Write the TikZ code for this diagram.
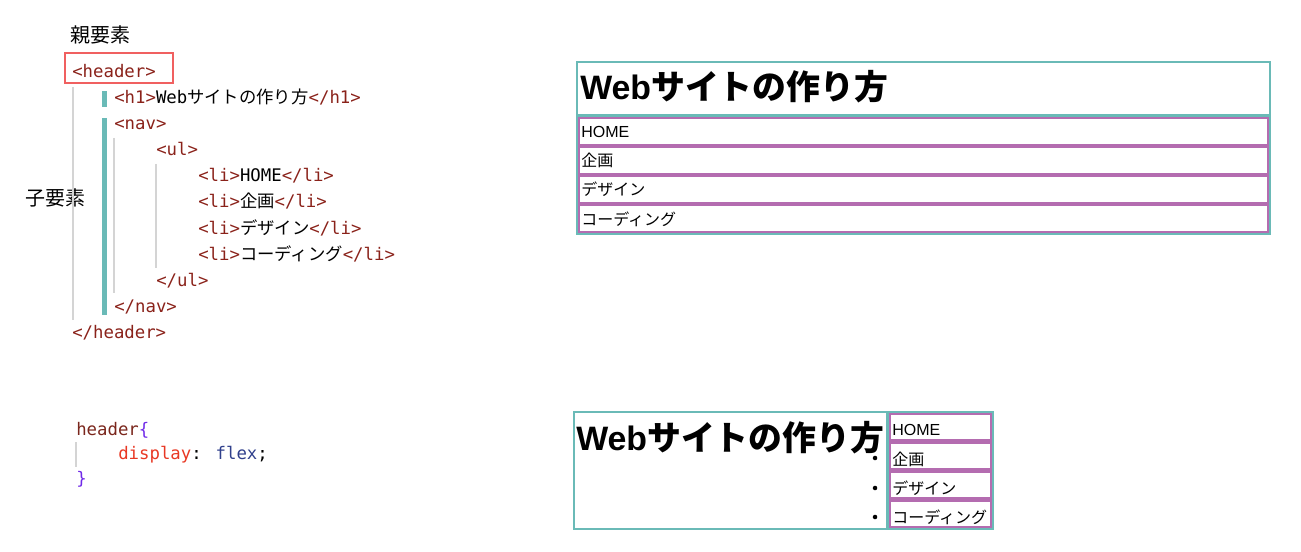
\documentclass[tikz,border=0pt]{standalone}
\usepackage{fontspec}
\setmainfont{Liberation Sans}
\newfontfamily\jp{Noto Sans CJK JP}
\newfontfamily\mono{DejaVu Sans Mono}
\definecolor{tagc}{RGB}{138,34,26}
\definecolor{tealc}{RGB}{106,186,183}
\definecolor{purpc}{RGB}{180,108,176}
\definecolor{redc}{RGB}{240,96,96}
\definecolor{guidec}{RGB}{212,212,212}
\definecolor{cssselc}{RGB}{122,38,28}
\definecolor{bracec}{RGB}{112,42,232}
\definecolor{propc}{RGB}{232,56,36}
\definecolor{valc}{RGB}{48,64,140}
\newcommand\tg[1]{{\color{tagc}#1}}
\tikzset{
  code/.style={font=\mono\fontsize{13}{13}\selectfont, anchor=base west, inner sep=0pt},
  lab/.style={font=\jp\fontsize{15}{15}\selectfont, anchor=base west, inner sep=0pt},
  ttl/.style={font=\bfseries\fontsize{25.4}{26}\selectfont, anchor=base west, inner sep=0pt},
  itm/.style={font=\fontsize{12}{12}\selectfont, anchor=base west, inner sep=0pt},
  guide/.style={draw=guidec, line width=1.1pt},
  tealbar/.style={fill=tealc},
  redbox/.style={draw=redc, line width=1.8pt},
  tealbox/.style={draw=tealc, line width=1.5pt},
  purpbox/.style={draw=purpc, line width=1.9pt},
}
\begin{document}
\begin{tikzpicture}[x=0.75pt,y=-0.75pt]
\useasboundingbox (0,0) rectangle (1301,552);
% ---------- HTML code ----------
\node[lab] (oya) at (70,43) {親要素};
\node[lab] (ko) at (25,205) {子要素};
\draw[redbox] (65,53) rectangle (173,83);
\draw[guide] (73,87) -- (73,320);
\draw[guide] (114,138) -- (114,293);
\draw[guide] (156,164) -- (156,268);
\fill[tealbar] (102,91) rectangle (107,107);
\fill[tealbar] (102,118) rectangle (107,315);
\node[code] (hdr) at (72,78) {\tg{<header>}};
\node[code] (h1) at (114,104) {\tg{<h1>}Web{\jp サイトの作り方}\tg{</h1>}};
\node[code] (nav) at (114,130) {\tg{<nav>}};
\node[code] (ul) at (156,156) {\tg{<ul>}};
\node[code] (li1) at (198,182) {\tg{<li>}HOME\tg{</li>}};
\node[code] (li2) at (198,208) {\tg{<li>}{\jp 企画}\tg{</li>}};
\node[code] (li3) at (198,234) {\tg{<li>}{\jp デザイン}\tg{</li>}};
\node[code] (li4) at (198,260) {\tg{<li>}{\jp コーディング}\tg{</li>}};
\node[code] (ulc) at (156,286) {\tg{</ul>}};
\node[code] (navc) at (114,312) {\tg{</nav>}};
\node[code] (hdrc) at (72,338) {\tg{</header>}};
% ---------- top render ----------
\draw[purpbox] (579.2,118.2) rectangle (1268.3,145.3);
\draw[purpbox] (579.2,147.2) rectangle (1268.3,174.3);
\draw[purpbox] (579.2,176.2) rectangle (1268.3,203.3);
\draw[purpbox] (579.2,205.2) rectangle (1268.3,232.3);
\draw[tealbox] (577,62) rectangle (1270,234);
\draw[draw=tealc, line width=2.2pt] (577,115.5) -- (1270,115.5);
\node[ttl] (t1) at (580,100) {Web{\jp サイトの作り方}};
\node[itm] (a1) at (581,138) {HOME};
\node[itm] (a2) at (581,167) {\jp 企画};
\node[itm] (a3) at (581,196) {\jp デザイン};
\node[itm] (a4) at (581,225) {\jp コーディング};
% ---------- CSS ----------
\draw[guide] (76,442) -- (76,467);
\node[code] (sel) at (76,435) {{\color{cssselc}header}{\color{bracec}\{}};
\node[code] (decl) at (118,459) {{\color{propc}display}: {\color{valc}flex};};
\node[code] (cls) at (76,484) {{\color{bracec}\}}};
% ---------- bottom render ----------
\draw[purpbox] (890.2,414.2) rectangle (990.8,440.3);
\draw[purpbox] (890.2,443.2) rectangle (990.8,469.3);
\draw[purpbox] (890.2,472.2) rectangle (990.8,498.3);
\draw[purpbox] (890.2,501.2) rectangle (990.8,527.3);
\draw[tealbox] (574,412) rectangle (993,529);
\draw[draw=tealc, line width=2.2pt] (887.5,412) -- (887.5,529);
\node[ttl] (t2) at (576,450) {Web{\jp サイトの作り方}};
\fill (875,458) circle[radius=1.7pt];
\fill (875,488) circle[radius=1.7pt];
\fill (875,517) circle[radius=1.7pt];
\node[itm] (b1) at (892,435) {HOME};
\node[itm] (b2) at (892,465) {\jp 企画};
\node[itm] (b3) at (892,494) {\jp デザイン};
\node[itm] (b4) at (892,523) {\jp コーディング};
\end{tikzpicture}
\end{document}
